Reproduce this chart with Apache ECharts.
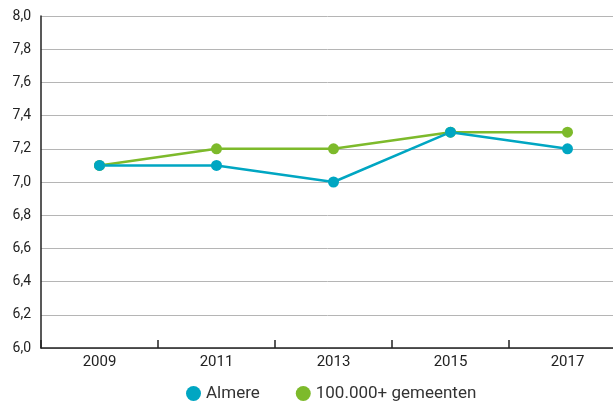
<!DOCTYPE html>
<html>
<head>
<meta charset="utf-8">
<script src="https://cdn.jsdelivr.net/npm/echarts@6/dist/echarts.min.js"></script>
<style>
  html, body { margin: 0; padding: 0; background: #fff; }
  #chart { width: 613px; height: 403px; }
</style>
</head>
<body>
<div id="chart"></div>
<script>
const years = ['2009', '2011', '2013', '2015', '2017']
const almere = [7.1, 7.1, 7.0, 7.3, 7.2]
const gemeenten = [7.1, 7.2, 7.2, 7.3, 7.3]

const teal = '#00a6c2'
const green = '#7dba2b'
const font = 'Roboto, "DejaVu Sans", sans-serif'

const chart = echarts.init(document.getElementById('chart'))
chart.setOption({
  animation: false,
  textStyle: { fontFamily: font },
  grid: { left: 41, top: 16, width: 585, bottom: 55, containLabel: false, outerBoundsMode: 'none' },
  legend: {
    left: 181,
    top: 380,
    icon: 'circle',
    itemWidth: 15,
    itemHeight: 15,
    itemGap: 36,
    textStyle: { fontSize: 17, color: '#333', fontFamily: font },
    data: ['Almere', '100.000+ gemeenten']
  },
  xAxis: {
    type: 'category',
    data: years,
    boundaryGap: true,
    axisLine: { lineStyle: { color: '#222', width: 1.5 } },
    axisTick: { show: true, inside: true, length: 8, lineStyle: { color: '#222', width: 1.5 } },
    axisLabel: { color: '#222', fontSize: 15, margin: 7 },
    splitLine: { show: false }
  },
  yAxis: {
    type: 'value',
    min: 6.0,
    max: 8.0,
    interval: 0.2,
    axisLine: { show: true, lineStyle: { color: '#222', width: 1.5 } },
    axisTick: { show: false },
    axisLabel: {
      color: '#222',
      fontSize: 14,
      margin: 10,
      formatter: v => v.toFixed(1).replace('.', ',')
    },
    splitLine: { show: true, lineStyle: { color: '#b5b5b5', width: 1 } }
  },
  series: [
    {
      name: '100.000+ gemeenten',
      type: 'line',
      data: gemeenten,
      color: green,
      symbol: 'circle',
      symbolSize: 11,
      lineStyle: { width: 2.5, color: green },
      itemStyle: { color: green }
    },
    {
      name: 'Almere',
      type: 'line',
      data: almere,
      color: teal,
      symbol: 'circle',
      symbolSize: 11,
      lineStyle: { width: 2.5, color: teal },
      itemStyle: { color: teal }
    }
  ]
})
</script>
</body>
</html>
